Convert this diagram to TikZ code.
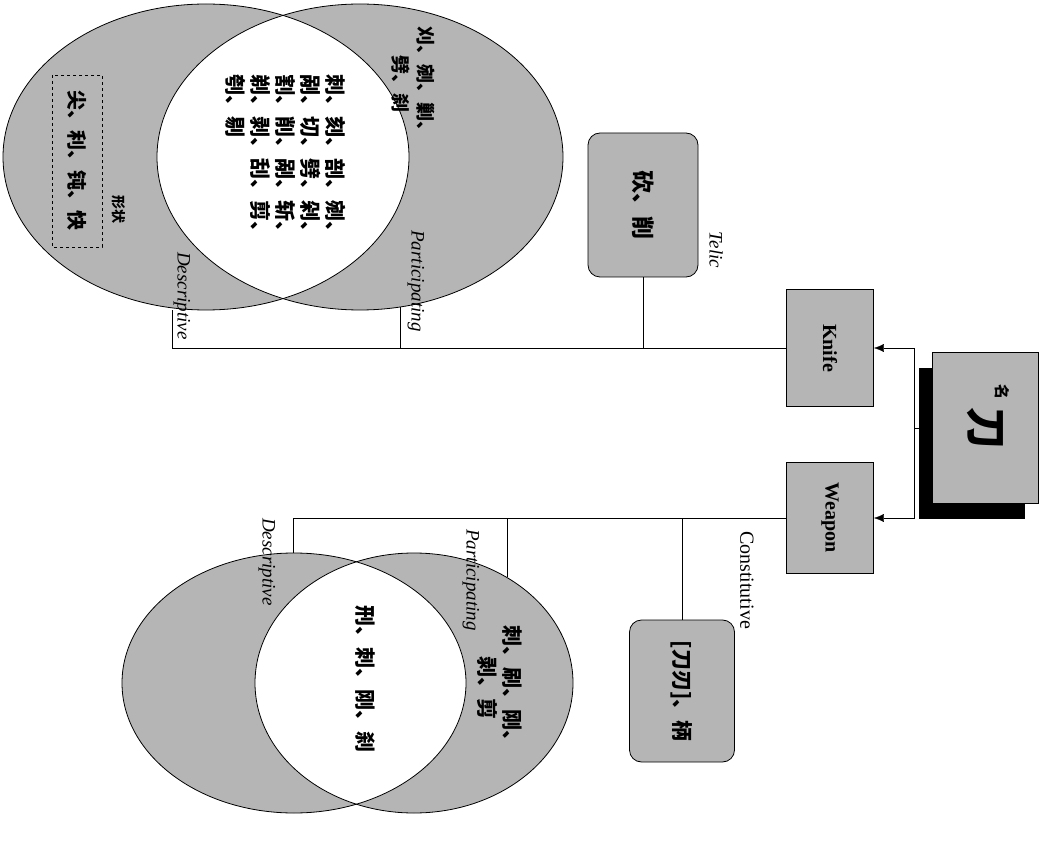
\documentclass[tikz,border=0pt]{standalone}
\usepackage{fontspec}
\usepackage{graphicx}
\setmainfont{Liberation Serif}
\newfontfamily\cjk{Noto Sans CJK SC}
\usetikzlibrary{shadows,arrows.meta}

\begin{document}
\begin{tikzpicture}[
        x=1pt,y=-1pt,
        every node/.style={inner sep=2pt},
        blot/.style={fill=gray!58},
        box/.style={
            blot,draw,thick,rectangle,
            font=\bfseries\fontsize{20}{22}\selectfont
        },
        roundbox/.style={blot,draw,thick,rounded corners=12pt},
        lbl/.style={rotate=-90,font=\itshape\fontsize{19}{22}\selectfont},
        hanzi/.style={rotate=-90,align=left,font=\cjk\bfseries\fontsize{21}{25}\selectfont}
    ]
    \useasboundingbox (0,0) rectangle (1047,842);
% Sets
    \fill[blot] (206,157) ellipse [x radius=203,y radius=153];
    \fill[blot] (360,157) ellipse [x radius=203,y radius=153];
    \begin{scope}
        \clip (206,157) ellipse [x radius=203,y radius=153];
        \fill[white] (360,157) ellipse [x radius=203,y radius=153];
    \end{scope}
    \draw[thick] (206,157) ellipse [x radius=203,y radius=153];
    \draw[thick] (360,157) ellipse [x radius=203,y radius=153];
    \fill[blot] (294,683) ellipse [x radius=172,y radius=130];
    \fill[blot] (414,683) ellipse [x radius=159,y radius=130];
    \begin{scope}
        \clip (294,683) ellipse [x radius=172,y radius=130];
        \fill[white] (414,683) ellipse [x radius=159,y radius=130];
    \end{scope}
    \draw[thick] (294,683) ellipse [x radius=172,y radius=130];
    \draw[thick] (414,683) ellipse [x radius=159,y radius=130];
    \draw[dashed,thick] (52,75) rectangle (102,247);
% Boxes
    \node[box,minimum width=106,minimum height=151,
        drop shadow={shadow xshift=-13pt,shadow yshift=-15pt,fill=black,opacity=1}]
        (dao) at (985,428) {\rotatebox{-90}{\cjk\bfseries\fontsize{42}{42}\selectfont 刀}};
    \node[box,minimum width=87,minimum height=117] (knife) at (830,348) {\rotatebox{-90}{Knife}};
    \node[box,minimum width=87,minimum height=111] (weapon) at (830,518) {\rotatebox{-90}{Weapon}};
    \node[roundbox,minimum width=110,minimum height=144] (telic) at (643,205)
        {\rotatebox{-90}{\cjk\bfseries\fontsize{23}{23}\selectfont 砍、削}};
    \node[roundbox,minimum width=105,minimum height=142] (constit) at (682,691)
        {\rotatebox{-90}{\cjk\bfseries\fontsize{21}{21}\selectfont [刀刃]、柄}};
% Connectors
    \coordinate (jt) at (914,428);
    \coordinate (kd) at (172,310);
    \coordinate (kp) at (400,307);
    \coordinate (wd) at (293,553);
    \coordinate (wp) at (507,577);
    \draw (dao.west) -- (jt);
    \draw[-{Latex[length=10pt,width=8pt]}] (jt) |- (knife.east);
    \draw[-{Latex[length=10pt,width=8pt]}] (jt) |- (weapon.east);
    \draw (knife.west) -| (kd);
    \draw (kp) -- (kp |- knife.west);
    \draw (telic.south) -- (telic.south |- knife.west);
    \draw (weapon.west) -| (wd);
    \draw (wp) -- (wp |- weapon.west);
    \draw (constit.north) -- (constit.north |- weapon.west);
% Labels
    \node[lbl] (tlab) at (716,250) {Telic};
    \node[lbl,font=\fontsize{20}{22}\selectfont] (clab) at (747,580) {Constitutive};
    \node[lbl] (dlab1) at (182,296) {Descriptive};
    \node[lbl] (plab1) at (416,281) {Participating};
    \node[lbl] (dlab2) at (267,562) {Descriptive};
    \node[lbl] (plab2) at (471,580) {Participating};
% Words
    \node[hanzi] (both1) at (286,159) {刺、刻、剖、剜、\\剐、切、劈、剁、\\割、削、剐、斩、\\剃、剥、刮、剪、\\刳、剔};
    \node[hanzi,align=center,font=\cjk\bfseries\fontsize{19}{25}\selectfont] (part1) at (413,84) {刈、剜、剿、\\劈、刹};
    \node[hanzi,font=\cjk\bfseries\fontsize{20}{24}\selectfont] (desc1) at (77,161) {尖、利、钝、快};
    \node[rotate=-90,font=\cjk\bfseries\fontsize{14}{14}\selectfont] (desc1t) at (119,210) {形状};
    \node[hanzi] (both2) at (365,679) {刑、刺、刚、刹};
    \node[hanzi,align=center] (part2) at (500,688) {刺、刷、刚、\\剥、剪};
    \node[rotate=-90,font=\cjk\bfseries\fontsize{15}{15}\selectfont] (ming) at (1002,392) {名};
\end{tikzpicture}
\end{document}
